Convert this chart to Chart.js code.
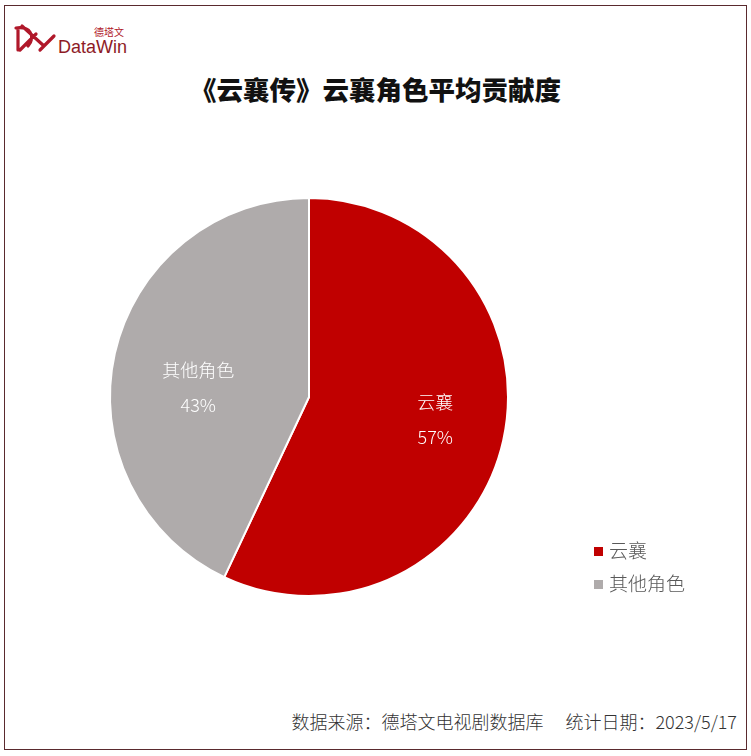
<!DOCTYPE html>
<html>
<head>
<meta charset="utf-8">
<script src="https://cdn.jsdelivr.net/npm/chart.js@4"></script>
<style>
  html, body { margin: 0; padding: 0; background: #fff; }
  body { width: 751px; height: 756px; position: relative; overflow: hidden; font-family: "Noto Sans CJK SC", "Noto Sans", sans-serif; }
  #frame { position: absolute; left: 4px; top: 5px; width: 741px; height: 743px; border: 1px solid #5a2a2e; }
  #logo { position: absolute; left: 14px; top: 22px; }
  #title { position: absolute; left: 0; width: 751px; top: 69px; text-align: center; font-size: 26.5px; font-weight: 900; color: #111; }
  #chart-box { position: absolute; left: 100px; top: 187px; width: 620px; height: 420px; }
  #footer { position: absolute; right: 14px; top: 708px; font-size: 18px; color: #333; white-space: pre; font-weight: 300; }
</style>
</head>
<body>
<div id="frame"></div>
<div id="logo">
  <svg width="130" height="36" viewBox="0 0 130 36">
    <!-- rough DataWin mark -->
    <path d="M4 6 L4 28 M2 6 C16 4 22 14 14 24 M8 4 L30 24 M6 28 L22 12 M26 28 L40 14" stroke="#b0182a" stroke-width="3.2" fill="none" stroke-linecap="round"/>
    <text x="80" y="14" font-size="10" fill="#b0182a" font-family="Noto Sans CJK SC">德塔文</text>
    <text x="44" y="31" font-size="18" fill="#8e1b26" font-family="Liberation Sans, Arial">DataWin</text>
  </svg>
</div>
<div id="title">《云襄传》云襄角色平均贡献度</div>
<div id="chart-box"><canvas id="pie"></canvas></div>
<div id="footer">数据来源：德塔文电视剧数据库　 统计日期：2023/5/17</div>

<script>
// data
const categories = ['云襄', '其他角色'];
const shares = [57, 43];
const sliceColors = ['#c00000', '#afabab'];

// draws the value labels inside the slices and the legend on the right
const sliceLabels = {
    id: 'sliceLabels',
    afterDatasetsDraw(chart) {
        const ctx = chart.ctx;
        const meta = chart.getDatasetMeta(0);
        ctx.save();
        ctx.textAlign = 'center';
        ctx.textBaseline = 'middle';
        ctx.fillStyle = '#ffffff';
        ctx.font = '300 18px "Noto Sans CJK SC", sans-serif';
        meta.data.forEach((arc, i) => {
            const mid = (arc.startAngle + arc.endAngle) / 2;
            const r = arc.outerRadius * (i === 0 ? 0.65 : 0.57);
            const x = arc.x + Math.cos(mid) * r;
            const y = arc.y + Math.sin(mid) * r + (i === 0 ? -6 : 15);
            ctx.fillText(categories[i], x, y - 17);
            ctx.fillText(shares[i] + '%', x, y + 18);
        });

        // legend
        ctx.textAlign = 'left';
        ctx.font = '300 19px "Noto Sans CJK SC", sans-serif';
        categories.forEach((name, i) => {
            const lx = 494;
            const ly = 364 + i * 33;
            ctx.fillStyle = sliceColors[i];
            ctx.fillRect(lx, ly - 4, 9, 9);
            ctx.fillStyle = '#595959';
            ctx.fillText(name, lx + 15, ly);
        });
        ctx.restore();
    }
};

const ctx = document.getElementById('pie').getContext('2d');
const chartInstance = new Chart(ctx, {
    type: 'pie',
    data: {
        labels: categories,
        datasets: [{
            data: shares,
            backgroundColor: sliceColors,
            borderColor: '#ffffff',
            borderWidth: 2
        }]
    },
    options: {
        responsive: true,
        maintainAspectRatio: false,
        animation: false,
        layout: { padding: { left: 9, top: 10, right: 211, bottom: 10 } },
        plugins: {
            legend: { display: false },
            tooltip: { enabled: false }
        }
    },
    plugins: [sliceLabels]
});
</script>
</body>
</html>
